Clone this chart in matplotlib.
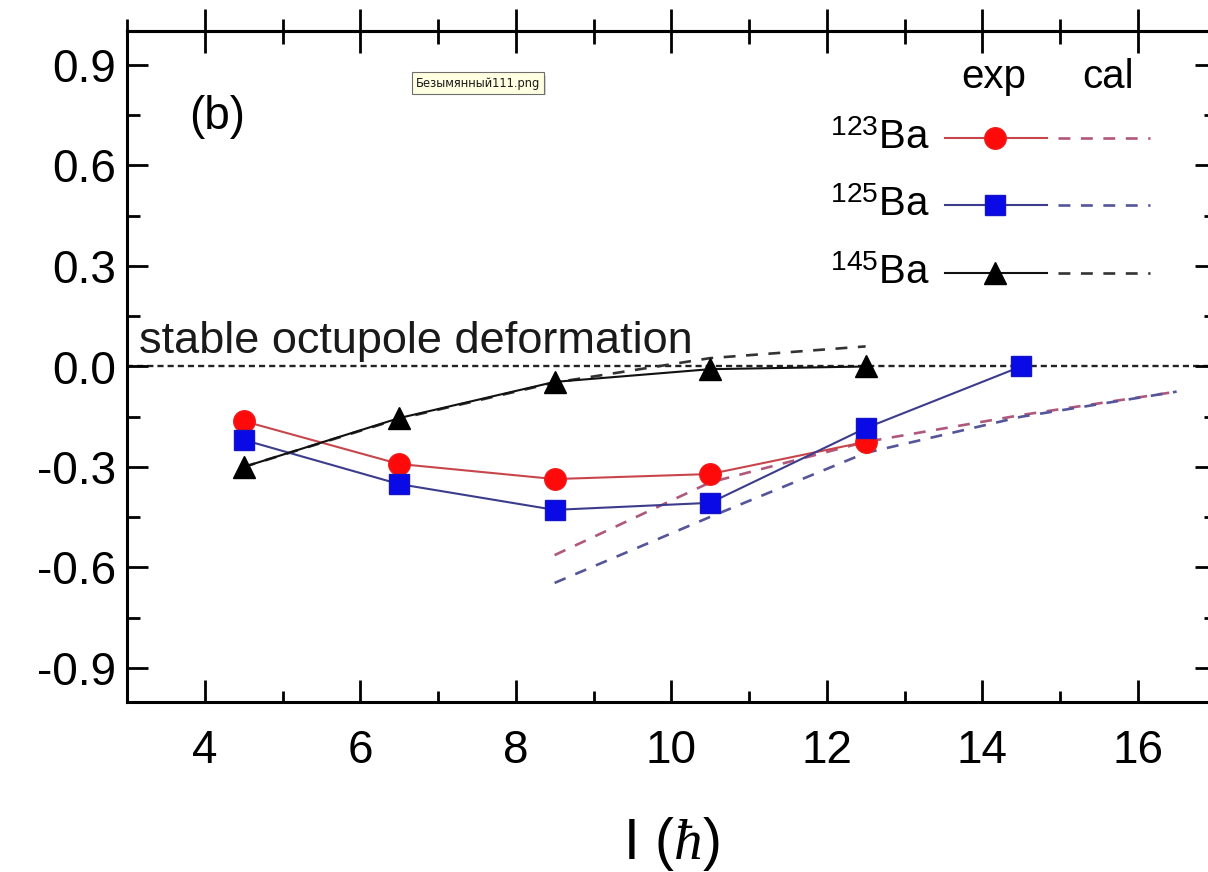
import matplotlib
matplotlib.use("Agg")
import matplotlib.pyplot as plt
from matplotlib.lines import Line2D
from matplotlib.patches import Rectangle
from matplotlib.ticker import MultipleLocator

plt.rcParams["font.family"] = ["Liberation Sans", "DejaVu Sans"]
plt.rcParams["axes.unicode_minus"] = False
plt.rcParams["mathtext.fontset"] = "custom"
plt.rcParams["mathtext.rm"] = "Liberation Sans"
plt.rcParams["mathtext.it"] = "Liberation Serif:italic"

# ---- data: spin I (hbar) vs octupole stability indicator ----
spin_123_exp = [4.5, 6.5, 8.5, 10.5, 12.5]
ba123_exp = [-0.163, -0.291, -0.336, -0.321, -0.225]
spin_123_cal = [8.5, 10.5, 12.5, 14.5, 16.5]
ba123_cal = [-0.563, -0.346, -0.225, -0.145, -0.075]

spin_125_exp = [4.5, 6.5, 8.5, 10.5, 12.5, 14.5]
ba125_exp = [-0.219, -0.351, -0.428, -0.407, -0.184, 0.0]
spin_125_cal = [8.5, 10.5, 12.5, 14.5, 16.5]
ba125_cal = [-0.646, -0.449, -0.258, -0.150, -0.075]

spin_145_exp = [4.5, 6.5, 8.5, 10.5, 12.5]
ba145_exp = [-0.300, -0.154, -0.046, -0.008, 0.0]
spin_145_cal = [4.5, 6.5, 8.5, 10.5, 12.5]
ba145_cal = [-0.300, -0.156, -0.048, 0.025, 0.060]

x_ticks = [4, 6, 8, 10, 12, 14, 16]
y_ticks = [-0.9, -0.6, -0.3, 0.0, 0.3, 0.6, 0.9]

series = [
    dict(name="123", xe=spin_123_exp, ye=ba123_exp, xc=spin_123_cal, yc=ba123_cal,
         marker="o", mfc="#ff0a0a", mec="#f01a1a", ms=15.5, line="#c8464b", cal="#b0587c"),
    dict(name="125", xe=spin_125_exp, ye=ba125_exp, xc=spin_125_cal, yc=ba125_cal,
         marker="s", mfc="#0a0ae6", mec="#1414c8", ms=14, line="#3c3c8c", cal="#55559a"),
    dict(name="145", xe=spin_145_exp, ye=ba145_exp, xc=spin_145_cal, yc=ba145_cal,
         marker="^", mfc="#000000", mec="#000000", ms=16, line="#111111", cal="#333333"),
]

fig = plt.figure(figsize=(12.08, 8.72), dpi=100)
ax = fig.add_axes([127 / 1208, 170.5 / 872, 1088.5 / 1208, 670 / 872])
ax.set_xlim(3, 17)
ax.set_ylim(-1.0, 1.0)

cal_dash = (0, (4.5, 4.0))

# reference line for zero
ax.axhline(0.0, color="#222222", lw=1.7, ls=(0, (2.6, 1.7)), zorder=1)
ax.text(3.15, 0.012, "stable octupole deformation", fontsize=32.5,
        ha="left", va="bottom", color="#1a1a1a")

for s in series:
    ax.plot(s["xc"], s["yc"], color=s["cal"], lw=1.9, ls=cal_dash, zorder=2)
    ax.plot(s["xe"], s["ye"], color=s["line"], lw=1.5, zorder=3,
            marker=s["marker"], ms=s["ms"], mfc=s["mfc"], mec=s["mec"])

# axes styling
for sp in ax.spines.values():
    sp.set_linewidth(2.2)
ax.xaxis.set_major_locator(MultipleLocator(2))
ax.xaxis.set_minor_locator(MultipleLocator(1))
ax.yaxis.set_major_locator(MultipleLocator(0.3))
ax.yaxis.set_minor_locator(MultipleLocator(0.15))
ax.set_xticks(x_ticks)
ax.set_yticks(y_ticks)
ax.set_yticklabels([f"{v:.1f}" for v in y_ticks])
ax.tick_params(axis="both", which="major", labelsize=33, width=2.0)
ax.tick_params(axis="both", which="minor", width=2.0)
ax.tick_params(axis="x", which="major", direction="in", length=16, pad=20, top=False)
ax.tick_params(axis="x", which="minor", direction="in", length=8, top=False)
ax.tick_params(axis="y", which="major", direction="in", length=15, pad=8, right=True)
ax.tick_params(axis="y", which="minor", direction="in", length=9, right=True)

# top spine ticks cross the frame (shared with the panel above)
sec = ax.secondary_xaxis("top")
sec.set_xticks(x_ticks)
sec.xaxis.set_minor_locator(MultipleLocator(1))
sec.tick_params(which="major", direction="inout", length=31, width=2.0, labeltop=False)
sec.tick_params(which="minor", direction="inout", length=18, width=2.0)
sec.spines["top"].set_linewidth(2.2)

ax.set_xlabel(r"I $(\hbar)$", fontsize=41, labelpad=30)

# panel tag
ax.text(0.083, 0.873, "(b)", transform=ax.transAxes, fontsize=33, ha="center", va="center")

# legend: exp (line + marker) and cal (dashed) columns
ax.text(0.796, 0.932, "exp", transform=ax.transAxes, fontsize=29, ha="center", va="center")
ax.text(0.901, 0.932, "cal", transform=ax.transAxes, fontsize=29, ha="center", va="center")
rows_y = [0.841, 0.741, 0.640]
for s, yy in zip(series, rows_y):
    ax.text(0.737, yy, r"$^{%s}\mathrm{Ba}$" % s["name"], transform=ax.transAxes,
            fontsize=29, ha="right", va="center")
    ax.add_line(Line2D([0.7515, 0.845], [yy, yy], transform=ax.transAxes,
                       color=s["line"], lw=1.5))
    ax.add_line(Line2D([0.797], [yy], transform=ax.transAxes, marker=s["marker"],
                       ms=s["ms"], mfc=s["mfc"], mec=s["mec"], ls="none"))
    ax.add_line(Line2D([0.855, 0.94], [yy, yy], transform=ax.transAxes,
                       color=s["cal"], lw=1.9, ls=cal_dash))

# file-name tooltip with a soft drop shadow
W, H = 1208, 872
fig.patches.append(Rectangle((415 / W, 1 - 95 / H), 131 / W, 19 / H,
                             transform=fig.transFigure, fc="#bdbdbd", ec="none",
                             alpha=0.6, zorder=5))
fig.text(478 / W, 1 - 83 / H, "Безымянный111.png", fontsize=8.3,
         family=["DejaVu Sans"], ha="center", va="center", color="#1a1a1a", zorder=6,
         bbox=dict(boxstyle="square,pad=0.35", fc="#ffffe1", ec="#6e6e6e", lw=0.8))

fig.savefig("out.png", dpi=100)
